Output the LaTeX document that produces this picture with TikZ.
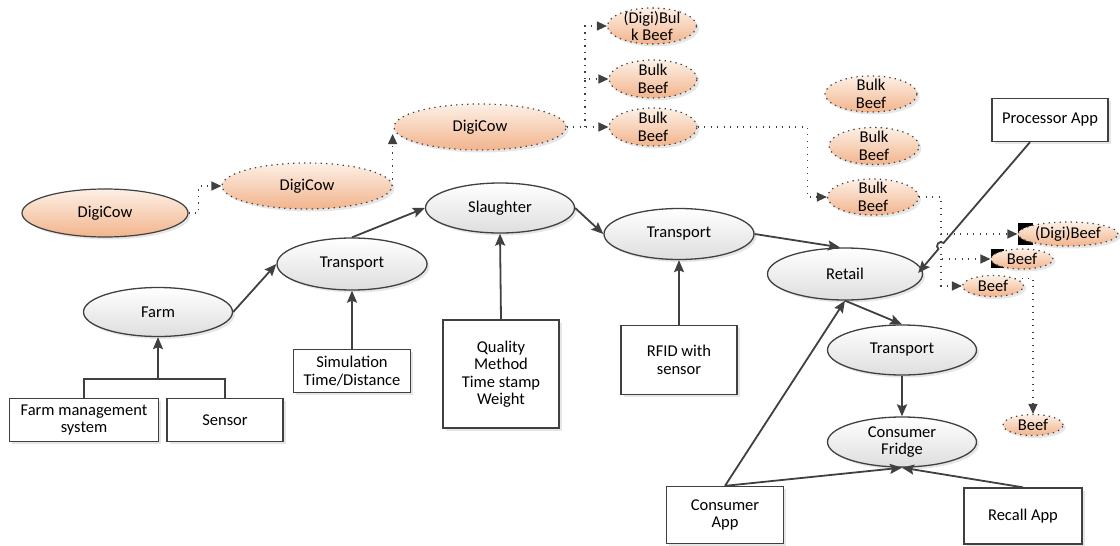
\documentclass[tikz,border=0pt]{standalone}
\usepackage{fontspec}
\setmainfont{Carlito}
\usepackage{tikz}
\usetikzlibrary{shapes.geometric,arrows.meta,shadows,calc}

\definecolor{peachtop}{HTML}{FDF0E6}
\definecolor{peachbot}{HTML}{F2B48C}
\definecolor{greybot}{HTML}{DEDEDE}
\definecolor{edge}{HTML}{404040}

\begin{document}
\begin{tikzpicture}
[every node/.style={inner sep=0pt, align=center, text=black, font=\fontsize{16.5pt}{17.5pt}\selectfont},
 soft/.style={drop shadow={opacity=0.16, fill=black!60, shadow xshift=2.5pt, shadow yshift=-2.5pt}},
 stage/.style={ellipse, soft, top color=white, bottom color=greybot, draw=edge, line width=1.3pt},
 digi/.style={ellipse, soft, top color=peachtop, bottom color=peachbot, draw=edge, line width=1.2pt, inner sep=-8pt},
 dotted edge/.style={dash pattern=on 1.3pt off 4.2pt},
 tool/.style={rectangle, soft, fill=white, draw=edge, line width=1.3pt},
 link/.style={line width=1.8pt, color=edge, -{Stealth[length=12pt, width=10pt, inset=2pt]}},
 trace/.style={line width=1.3pt, color=edge, dash pattern=on 1.3pt off 5.2pt, -{Triangle[length=10pt, width=9pt]}}]
\useasboundingbox (0pt,0pt) rectangle (1120pt,-546pt);

% digital twins of the animal and the meat
\node (cow1) [digi, minimum width=166pt, minimum height=48pt] at (105.0pt, -213.0pt) {DigiCow};
\node (cow2) [digi, dotted edge, minimum width=170pt, minimum height=46pt] at (307.0pt, -186.0pt) {DigiCow};
\node (cow3) [digi, dotted edge, minimum width=172pt, minimum height=46pt] at (480.0pt, -127.0pt) {DigiCow};
\node (bulk1) [digi, dotted edge, minimum width=89pt, minimum height=36pt] at (652.0pt, -26.0pt) {(Digi)Bul\\k Beef};
\node (bulk2) [digi, dotted edge, minimum width=88pt, minimum height=38pt] at (653.0pt, -79.0pt) {Bulk\\Beef};
\node (bulk3) [digi, dotted edge, minimum width=88pt, minimum height=38pt] at (653.0pt, -127.0pt) {Bulk\\Beef};
\node (bulk4) [digi, dotted edge, minimum width=92pt, minimum height=36pt] at (871.0pt, -94.0pt) {Bulk\\Beef};
\node (bulk5) [digi, dotted edge, minimum width=90pt, minimum height=37pt] at (874.0pt, -146.0pt) {Bulk\\Beef};
\node (bulk6) [digi, dotted edge, minimum width=91pt, minimum height=36pt] at (873.0pt, -197.0pt) {Bulk\\Beef};
\fill (1018pt,-223pt) rectangle (1033pt,-245pt);
\fill (991pt,-249pt) rectangle (1004pt,-268pt);
\node (beef1) [digi, dotted edge, minimum width=100pt, minimum height=24pt] at (1068.0pt, -234.0pt) {(Digi)Beef};
\node (beef2) [digi, dotted edge, minimum width=62pt, minimum height=20pt] at (1022.0pt, -259.0pt) {Beef};
\node (beef3) [digi, dotted edge, minimum width=61pt, minimum height=21pt] at (993.0pt, -286.0pt) {Beef};
\node (beef4) [digi, dotted edge, minimum width=60pt, minimum height=21pt] at (1033.0pt, -425.0pt) {Beef};

% chain stages
\node (farm) [stage, minimum width=149pt, minimum height=49pt] at (158.0pt, -312.0pt) {Farm};
\node (transport1) [stage, minimum width=150pt, minimum height=52pt] at (352.0pt, -264.0pt) {Transport};
\node (slaughter) [stage, minimum width=149pt, minimum height=50pt] at (500.0pt, -208.0pt) {Slaughter};
\node (transport2) [stage, minimum width=150pt, minimum height=51pt] at (679.0pt, -234.0pt) {Transport};
\node (retail) [stage, minimum width=155pt, minimum height=52pt] at (845.0pt, -274.0pt) {Retail};
\node (transport3) [stage, minimum width=149pt, minimum height=50pt] at (902.0pt, -350.0pt) {Transport};
\node (fridge) [stage, minimum width=149pt, minimum height=50pt] at (902.0pt, -442.0pt) {Consumer\\Fridge};

% data sources and apps
\node (fms) [tool, minimum width=149pt, minimum height=43pt] at (84.0pt, -420.0pt) {Farm management\\system};
\node (sensor) [tool, minimum width=116pt, minimum height=43pt] at (225.0pt, -420.0pt) {Sensor};
\node (sim) [tool, minimum width=117pt, minimum height=43pt] at (352.0pt, -371.0pt) {Simulation\\Time/Distance};
\node (quality) [tool, minimum width=116pt, minimum height=108pt] at (501.0pt, -374.0pt) {Quality\\Method\\Time stamp\\Weight};
\node (rfid) [tool, minimum width=116pt, minimum height=69pt] at (679.0pt, -360.0pt) {RFID with\\sensor};
\node (proc) [tool, minimum width=116pt, minimum height=43pt] at (1050.0pt, -120.0pt) {Processor App};
\node (capp) [tool, minimum width=117pt, minimum height=57pt] at (725.0pt, -515.0pt) {Consumer\\App};
\node (recall) [tool, minimum width=118pt, minimum height=56pt] at (1023.0pt, -516.0pt) {Recall App};

\coordinate (split1) at (585.0pt, -127.0pt);
\coordinate (split2) at (941.0pt, -197.0pt);
\coordinate (join) at (158.0pt, -379.0pt);
\coordinate (hop) at (941.0pt, -246.0pt);

% dotted trace of the twins
\draw [trace] (cow1.east) -- ++(10pt,0) |- (cow2.west);
\draw [trace] (cow2.east) -- ([yshift=-7pt]cow2.east |- cow3.west);
\draw [trace] (cow3.east) to (bulk3.west);
\draw [trace] (split1) |- (bulk2.west);
\draw [trace] (split1 |- bulk2.west) |- (bulk1.west);
\draw [trace] (bulk3.east) -- ++(110pt,0) |- (bulk6.west);
\draw [trace] (bulk6.east) -- (split2) |- (beef1.west);
\draw [trace] (split2 |- beef1.west) |- (beef2.west);
\draw [trace] (split2 |- beef2.west) |- (beef3.west);
\draw [trace] (beef3.north east) -| (beef4.north);

% physical flow
\draw [line width=1.8pt, color=edge] (fms.north) |- (join) -| (sensor.north);
\draw [link] (join) to (farm.south);
\draw [link] (farm.east) to (transport1.west);
\draw [link] (sim.north) to (transport1.south);
\draw [link] (transport1.north) to (slaughter.west);
\draw [link] (quality.north) to (slaughter.south);
\draw [link] (slaughter.east) to (transport2.west);
\draw [link] (rfid.north) to (transport2.south);
\draw [link] (transport2.east) to ([xshift=-5pt]retail.north);
\draw [link] ([xshift=-20pt]proc.south) -- ($(hop)+(49.6:4pt)$) arc [start angle=49.6, end angle=229.6, radius=4pt] -- ([xshift=-5pt,yshift=1pt]retail.east);
\draw [link] (capp.north) to (retail.south);
\draw [link] (retail.south) to (transport3.north);
\draw [link] (transport3.south) to (fridge.north);
\draw [link] (capp.north) to (fridge.south);
\draw [link] (recall.north) to (fridge.south);
\end{tikzpicture}
\end{document}
